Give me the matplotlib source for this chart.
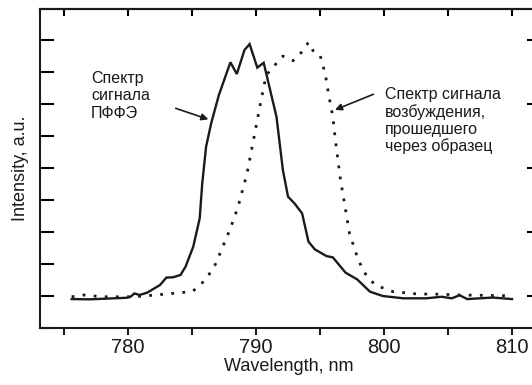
import matplotlib
matplotlib.use("Agg")
import matplotlib.pyplot as plt
from matplotlib.ticker import MultipleLocator

plt.rcParams["font.family"] = ["Liberation Sans", "DejaVu Sans"]

# PFFE signal spectrum (solid)
pffe_wl = [775.6, 777.0, 779.9, 780.2, 780.5, 780.9, 781.5, 782.5, 783.0, 783.5,
           784.1, 784.5, 785.1, 785.6, 785.8, 786.1, 786.5, 787.1, 788.0, 788.5,
           789.1, 789.5, 790.1, 790.6, 791.6, 792.1, 792.5, 793.0, 793.6, 794.1,
           794.6, 795.5, 796.0, 797.0, 797.9, 798.9, 799.9, 801.5, 803.3, 804.5,
           805.3, 805.9, 806.5, 808.5, 810.0]
pffe_int = [-0.012, -0.013, -0.007, -0.003, 0.010, 0.004, 0.013, 0.043, 0.072, 0.073,
            0.082, 0.115, 0.193, 0.303, 0.440, 0.583, 0.675, 0.785, 0.913, 0.867,
            0.961, 0.984, 0.892, 0.911, 0.700, 0.492, 0.388, 0.362, 0.323, 0.212,
            0.182, 0.156, 0.151, 0.091, 0.065, 0.017, 0.000, -0.009, -0.009, -0.003,
            -0.009, 0.003, -0.012, -0.006, -0.012]

# excitation signal spectrum after the sample (dotted)
exc_wl = [775.6, 776.5, 778.0, 780.0, 780.7, 782.2, 784.1, 785.0, 785.6, 786.3,
          786.8, 787.3, 788.0, 788.6, 789.3, 789.8, 790.4, 790.8, 791.6, 792.1,
          792.9, 793.6, 794.1, 794.5, 795.0, 795.4, 795.7, 796.0, 796.2, 796.6,
          797.0, 797.3, 797.9, 798.4, 799.3, 800.7, 802.6, 804.4, 805.9, 809.8]
exc_int = [-0.003, 0.004, -0.003, -0.003, -0.002, 0.004, 0.013, 0.017, 0.039, 0.082,
           0.121, 0.180, 0.264, 0.349, 0.479, 0.609, 0.766, 0.863, 0.909, 0.937,
           0.919, 0.954, 0.991, 0.954, 0.941, 0.870, 0.780, 0.700, 0.609, 0.453,
           0.336, 0.245, 0.154, 0.095, 0.043, 0.017, 0.008, 0.007, 0.004, 0.001]

label_pffe = "Спектр\nсигнала\nПФФЭ"
label_exc = "Спектр сигнала\nвозбуждения,\nпрошедшего\nчерез образец"

fig = plt.figure(figsize=(5.32, 3.85), dpi=100)
ax = fig.add_axes([40 / 532, 1 - 328 / 385, 498 / 532, 319 / 385])

ax.plot(pffe_wl, pffe_int, color="#1a1a1a", lw=1.7, solid_joinstyle="miter")
ax.plot(exc_wl, exc_int, color="#1a1a1a", lw=2.0, linestyle=(0, (1, 3)))

ax.set_xlim(773.125, 812.03)
ax.set_ylim(-0.125, 1.121)

for s in ax.spines.values():
    s.set_linewidth(1.5)
    s.set_color("#1a1a1a")

ax.xaxis.set_major_locator(MultipleLocator(10))
ax.xaxis.set_minor_locator(MultipleLocator(5))
ax.yaxis.set_major_locator(MultipleLocator(0.125))
ax.tick_params(axis="x", which="both", direction="out", length=5, width=1.5,
               labelsize=14.5, pad=2, colors="#1a1a1a")
ax.tick_params(axis="y", which="both", direction="in", length=10, width=1.5,
               labelleft=False)

top = ax.secondary_xaxis("top")
top.xaxis.set_major_locator(MultipleLocator(5))
top.tick_params(direction="in", length=5, width=1.5, labeltop=False)
top.spines["top"].set_linewidth(1.5)

right = ax.secondary_yaxis("right")
right.yaxis.set_major_locator(MultipleLocator(0.25))
right.tick_params(direction="in", length=8, width=1.5, labelright=False)
right.spines["right"].set_linewidth(1.5)

ax.set_xlabel("Wavelength, nm", fontsize=13, labelpad=1, color="#1a1a1a")
ax.set_ylabel("Intensity, a.u.", fontsize=13, labelpad=8, color="#1a1a1a")

ax.text(777.1, 0.879, label_pffe, fontsize=11.5, va="top", ha="left",
        linespacing=1.2, color="#1a1a1a")
ax.text(800.08, 0.816, label_exc, fontsize=11.5, va="top", ha="left",
        linespacing=1.15, color="#1a1a1a")

arrow = dict(arrowstyle="-|>", color="#1a1a1a", lw=1.2, mutation_scale=10,
             shrinkA=0, shrinkB=0)
ax.annotate("", xy=(786.28, 0.69), xytext=(783.73, 0.733), arrowprops=arrow)
ax.annotate("", xy=(796.17, 0.727), xytext=(799.17, 0.788), arrowprops=arrow)

fig.savefig("out.png", dpi=100)
